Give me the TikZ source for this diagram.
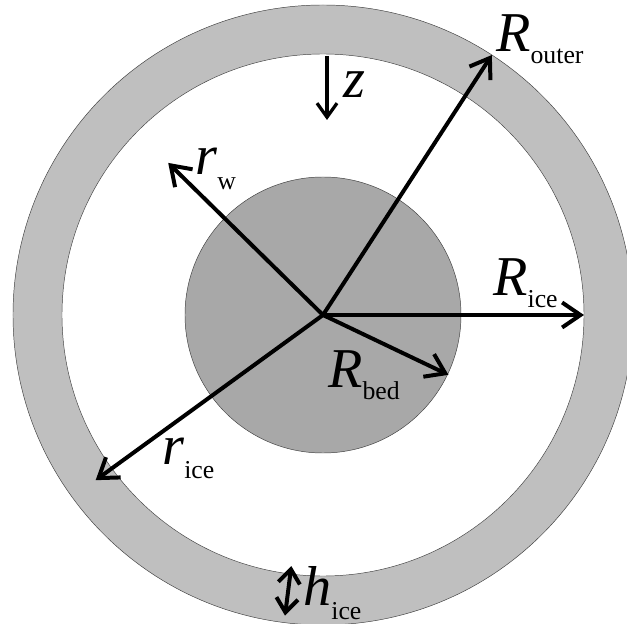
\documentclass[tikz,border=0pt]{standalone}
\usepackage{fontspec}
\IfFontExistsTF{LiberationSerif-Regular.ttf}
  {\setmainfont{LiberationSerif}[Extension=.ttf, UprightFont=*-Regular, ItalicFont=*-Italic]}
  {\setmainfont{Liberation Serif}}
\usetikzlibrary{arrows.meta}
\newcommand{\sym}[3][-0.36cm]{\textit{#2}\raisebox{#1}{\fontsize{22}{22}\selectfont\upshape #3}}

\begin{document}
\begin{tikzpicture}[x=0.03cm, y=0.03cm,
  disc/.style={draw=black!75, line width=0.4pt},
  ray/.style={line width=3.4pt, -{Straight Barb[length=0.55cm, width=0.75cm]}},
  lbl/.style={anchor=base west, inner sep=0pt, font=\rmfamily\fontsize{48}{48}\selectfont}]
  \clip (-323,-308) rectangle (304,315);
  \fill[white] (-323,-308) rectangle (304,315);
  % ice shell, ocean and bed
  \filldraw[disc, fill=black!25] (0,0) circle (310);
  \filldraw[disc, fill=white] (0,0) circle (261);
  \filldraw[disc, fill=black!34] (0,0) circle (138);
  \coordinate (O) at (0,0);
  \coordinate (Ro) at (57:310);
  \coordinate (Ri) at (0:261);
  \coordinate (Rb) at (-25.5:139);
  \coordinate (rw) at (135.5:217);
  \coordinate (ri) at (216:281);
  \coordinate (z1) at (4,259);
  \coordinate (z2) at (4,195);
  \coordinate (h1) at (262.8:253);
  \coordinate (h2) at (262.8:303);
  \draw[ray] (O) -- (Ro);
  \draw[ray] (O) -- (Ri);
  \draw[ray] (O) -- (Rb);
  \draw[ray] (O) -- (rw);
  \draw[ray] (O) -- (ri);
  \draw[line width=2.8pt, -{Straight Barb[length=0.42cm, width=0.6cm]}] (z1) -- (z2);
  \draw[line width=3.4pt, {Straight Barb[length=0.42cm, width=0.65cm]}-{Straight Barb[length=0.42cm, width=0.65cm]}] (h1) -- (h2);
  \node[lbl] (Router) at (173,263) {\sym{R}{outer}};
  \node[lbl] (Rice) at (170,19) {\sym{R}{ice}};
  \node[lbl] (Rbed) at (5,-72) {\sym{R}{bed}};
  \node[lbl] (rwl) at (-128,140) {\sym[-0.45cm]{r}{w}};
  \node[lbl] (rice) at (-161,-149) {\sym[-0.42cm]{r}{ice}};
  \node[lbl] (zl) at (20,217) {\textit{z}};
  \node[lbl] (hice) at (-20,-290) {\sym[-0.42cm]{h}{ice}};
\end{tikzpicture}
\end{document}
